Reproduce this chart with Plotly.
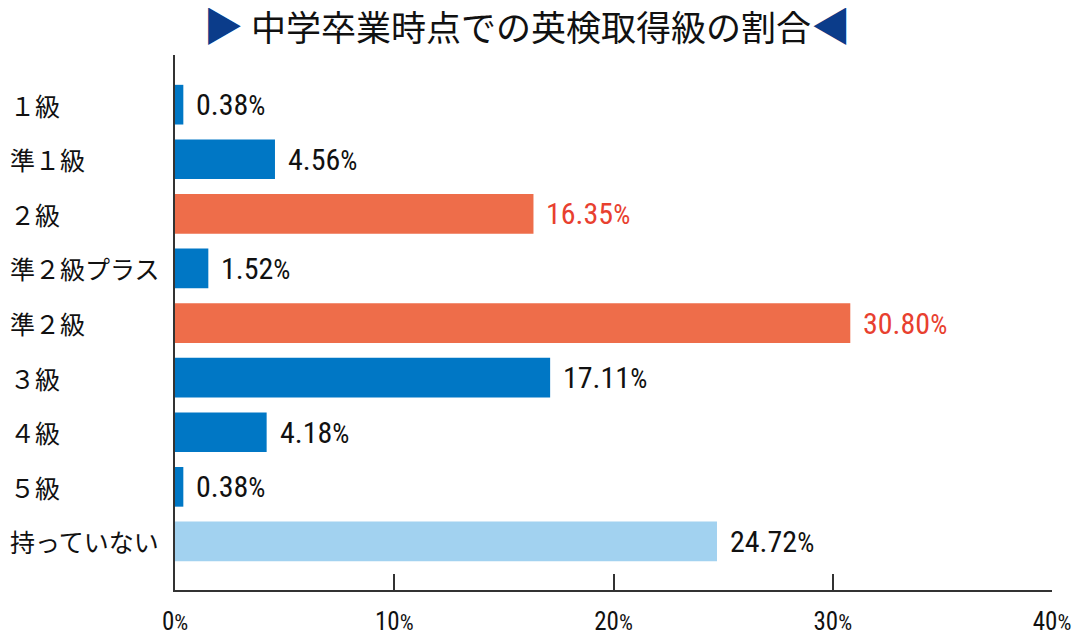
import plotly.graph_objects as go

categories = ["１級", "準１級", "２級", "準２級プラス", "準２級", "３級", "４級", "５級", "持っていない"]
values = [0.38, 4.56, 16.35, 1.52, 30.80, 17.11, 4.18, 0.38, 24.72]
value_labels = ["0.38", "4.56", "16.35", "1.52", "30.80", "17.11", "4.18", "0.38", "24.72"]
highlight = [False, False, True, False, True, False, False, False, False]
no_cert = [False, False, False, False, False, False, False, False, True]
tick_vals = [0, 10, 20, 30, 40]
tick_labels = ["0", "10", "20", "30", "40"]

BLUE = "#0077C5"
ORANGE = "#EE6D4A"
LIGHT = "#A2D2F0"
RED = "#E8402F"
NAVY = "#0B3C8A"

bar_colors = [ORANGE if h else (LIGHT if n else BLUE) for h, n in zip(highlight, no_cert)]
text_colors = [RED if h else "#111111" for h in highlight]

num_font = "Liberation Sans Narrow, Roboto Condensed, DejaVu Sans Condensed, Roboto, sans-serif"
jp_font = "Noto Sans CJK JP"

# page is offset by the body margin (~8px); margins compensate
L, R, T, B = 167, 36, 47, 54
W, H = 1080, 640
plot_w = W - L - R

fig = go.Figure()
fig.add_trace(go.Bar(
    x=values, y=categories, orientation="h",
    marker=dict(color=bar_colors, line=dict(width=0)),
    width=0.727, hoverinfo="skip",
))

annotations = []
for cat, v, lab, col in zip(categories, values, value_labels, text_colors):
    annotations.append(dict(
        x=v, y=cat, xref="x", yref="y", xanchor="left", yanchor="middle",
        xshift=11, showarrow=False,
        text=f"{lab}<span style='font-size:27px'>%</span>",
        font=dict(family=num_font, size=30, color=col),
    ))
for cat in categories:
    annotations.append(dict(
        x=-L / plot_w, y=cat, xref="paper", yref="y", xanchor="left", yanchor="middle",
        showarrow=False, text=cat,
        font=dict(family=jp_font, size=25, color="#111111"),
    ))

tri = "font-size:40px;color:" + NAVY
fig.update_layout(
    width=W, height=H,
    margin=dict(l=L, r=R, t=T, b=B),
    paper_bgcolor="white", plot_bgcolor="white",
    showlegend=False,
    title=dict(
        text=f"<span style='{tri}'>▶</span> 中学卒業時点での英検取得級の割合<span style='{tri}'>◀</span>",
        x=0.4806, xanchor="center", xref="container", y=0.968, yanchor="middle",
        font=dict(family=jp_font, size=35, color="#111111"),
    ),
    annotations=annotations,
    xaxis=dict(
        range=[0, 40], tickvals=tick_vals,
        ticktext=[f"{t}<span style='font-size:22px'>%</span>" for t in tick_labels],
        ticks="inside", ticklen=16, tickwidth=1.5, tickcolor="#333333",
        showline=True, linecolor="#333333", linewidth=2,
        showgrid=False, zeroline=False,
        tickfont=dict(family=num_font, size=25, color="#111111"),
        ticklabelstandoff=8,
    ),
    yaxis=dict(
        range=[8.89, -0.91], showticklabels=False, ticks="",
        showline=True, linecolor="#333333", linewidth=2,
        showgrid=False, zeroline=False,
        categoryorder="array", categoryarray=categories,
    ),
)

fig.write_html("out.html")
